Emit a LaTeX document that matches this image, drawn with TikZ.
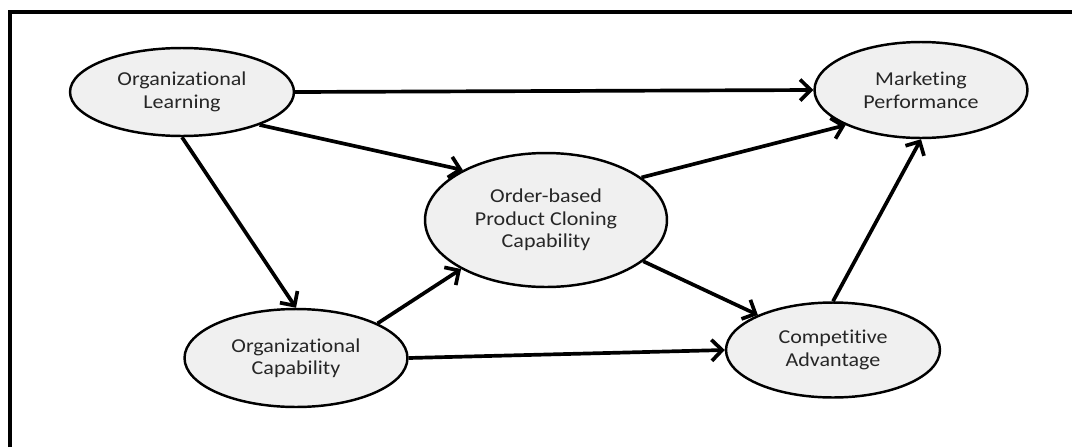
\documentclass[tikz,border=0pt]{standalone}
\usepackage{fontspec}
\setmainfont{Carlito}[FakeStretch=1.12, Ligatures=NoCommon]
\usetikzlibrary{arrows.meta, shapes.geometric}
\definecolor{ovalfill}{HTML}{F0F0F0}
\definecolor{labeltext}{HTML}{262626}

\begin{document}
\begin{tikzpicture}[x=0.02cm, y=-0.02cm,
        construct/.style={ellipse, draw, line width=1.4pt, fill=ovalfill,
            inner sep=0pt, align=center, text=labeltext,
            font=\fontsize{11.2}{12.8}\selectfont},
        link/.style={line width=2.1pt, -{Straight Barb[length=6pt, width=12pt]}}]
        \useasboundingbox (0,0) rectangle (1072,447);
        \draw[line width=1.8pt] (10,447) -- (10,12) -- (1072,12);

        \node[construct, minimum width=4.48cm, minimum height=1.76cm] (orglearn) at (182,92) {Organizational\\Learning};
        \node[construct, minimum width=4.26cm, minimum height=1.92cm] (mktperf) at (921,90) {Marketing\\Performance};
        \node[construct, minimum width=4.84cm, minimum height=2.68cm] (cloning) at (546,220) {Order-based\\Product Cloning\\Capability};
        \node[construct, minimum width=4.46cm, minimum height=1.96cm] (orgcap) at (296,358) {Organizational\\Capability};
        \node[construct, minimum width=4.28cm, minimum height=1.90cm] (compadv) at (833,350) {Competitive\\Advantage};

        \draw[link] (orglearn.east) -- (mktperf.west);
        \draw[link] (orglearn.-23) -- (cloning.149);
        \draw[link] (orglearn.south) -- (orgcap.north);
        \draw[link] (orgcap.23) -- (cloning.210);
        \draw[link] (orgcap.east) -- (compadv.west);
        \draw[link] (cloning.24) -- (mktperf.205);
        \draw[link] (cloning.-23) -- (compadv.155);
        \draw[link] (compadv.north) -- (mktperf.south);
    \end{tikzpicture}
\end{document}
